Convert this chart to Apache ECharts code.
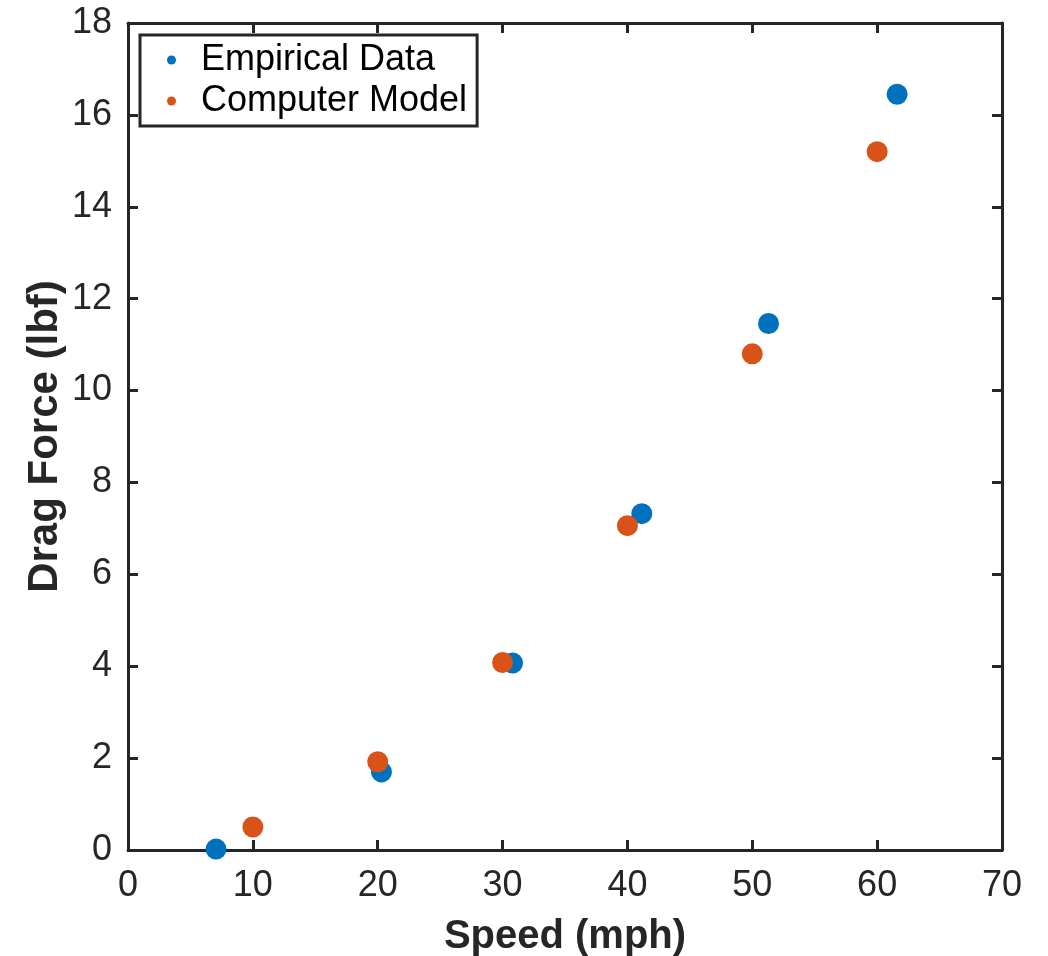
<!DOCTYPE html>
<html>
<head>
<meta charset="utf-8">
<script src="https://cdn.jsdelivr.net/npm/echarts@6/dist/echarts.min.js"></script>
<style>html,body{margin:0;padding:0;background:#fff;overflow:hidden}#c{width:1048px;height:956px}</style>
</head>
<body>
<div id="c"></div>
<script>
const empiricalSpeed = [7.05, 20.3, 30.8, 41.15, 51.3, 61.6];
const empiricalForce = [0.02, 1.70, 4.07, 7.32, 11.46, 16.45];
const modelSpeed = [10, 20, 30, 40, 50, 60];
const modelForce = [0.50, 1.92, 4.08, 7.06, 10.80, 15.20];
const xTicks = [0, 10, 20, 30, 40, 50, 60, 70];
const yTicks = [0, 2, 4, 6, 8, 10, 12, 14, 16, 18];

const ink = '#262626';
const font = 'Liberation Sans, Arial, sans-serif';
const chart = echarts.init(document.getElementById('c'));
const axisCommon = {
  axisLine: {show: true, onZero: false, lineStyle: {color: ink, width: 3}},
  axisTick: {show: true, inside: true, length: 10, lineStyle: {color: ink, width: 3}},
  splitLine: {show: false}
};
chart.setOption({
  animation: false,
  backgroundColor: '#fff',
  grid: {left: 128, right: 46, top: 23, bottom: 106, containLabel: false, outerBoundsMode: 'none'},
  legend: {
    orient: 'vertical', left: 140, top: 35,
    icon: 'circle', itemWidth: 9, itemHeight: 9, itemGap: 5,
    padding: [7, 10, 7, 27],
    borderColor: ink, borderWidth: 3, backgroundColor: '#fff',
    textStyle: {fontFamily: font, fontSize: 36, color: '#000', padding: [0, 0, 0, 20]},
    data: ['Empirical Data', 'Computer Model']
  },
  xAxis: [
    Object.assign({
      type: 'value', min: xTicks[0], max: xTicks[xTicks.length - 1], interval: 10,
      name: 'Speed (mph)', nameLocation: 'middle', nameGap: 67,
      nameTextStyle: {fontFamily: font, fontSize: 40, fontWeight: 'bold', color: ink},
      axisLabel: {fontFamily: font, fontSize: 36, color: ink, margin: 18}
    }, axisCommon),
    Object.assign({
      type: 'value', position: 'top', min: xTicks[0], max: xTicks[xTicks.length - 1], interval: 10,
      axisLabel: {show: false}
    }, axisCommon)
  ],
  yAxis: [
    Object.assign({
      type: 'value', min: yTicks[0], max: yTicks[yTicks.length - 1], interval: 2,
      name: 'Drag Force (lbf)', nameLocation: 'middle', nameGap: 62, nameRotate: 90,
      nameMoveOverlap: false,
      nameTextStyle: {fontFamily: font, fontSize: 42, fontWeight: 'bold', color: ink},
      axisLabel: {fontFamily: font, fontSize: 36, color: ink, margin: 16}
    }, axisCommon),
    Object.assign({
      type: 'value', position: 'right', min: yTicks[0], max: yTicks[yTicks.length - 1], interval: 2,
      axisLabel: {show: false}
    }, axisCommon)
  ],
  series: [
    {
      name: 'Empirical Data', type: 'scatter', symbolSize: 21,
      itemStyle: {color: '#0072BD', opacity: 1},
      data: empiricalSpeed.map((s, i) => [s, empiricalForce[i]]), z: 3
    },
    {
      name: 'Computer Model', type: 'scatter', symbolSize: 21,
      itemStyle: {color: '#D95319', opacity: 1},
      data: modelSpeed.map((s, i) => [s, modelForce[i]]), z: 4
    }
  ]
});
</script>
</body>
</html>
